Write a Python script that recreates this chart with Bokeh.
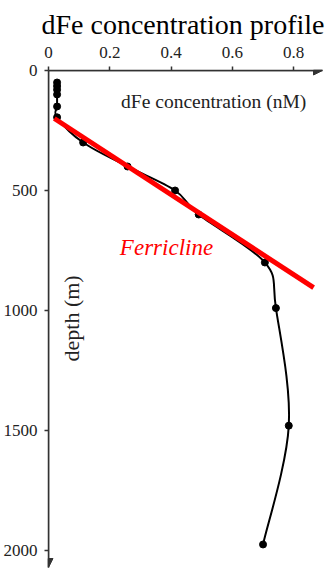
import numpy as np
from bokeh.plotting import figure
from bokeh.models import Range1d, Label, Arrow, NormalHead, FixedTicker
from bokeh.embed import file_html
from bokeh.resources import INLINE

# Data
conc = [0.028, 0.028, 0.028, 0.028, 0.028, 0.028, 0.113, 0.258, 0.413, 0.490, 0.706, 0.742, 0.784, 0.700]
depth = [50, 65, 80, 100, 150, 195, 300, 400, 500, 600, 800, 990, 1480, 1975]

ferricline_conc = [0.019, 0.865]
ferricline_depth = [200, 905]

x_ticks = [0, 0.2, 0.4, 0.6, 0.8]
x_tick_labels = ["0", "0.2", "0.4", "0.6", "0.8"]
y_ticks = [0, 500, 1000, 1500, 2000]
y_tick_labels = ["0", "500", "1000", "1500", "2000"]

FONT = "Liberation Serif"
AX = "#333333"

p = figure(width=331, height=573,
           x_range=Range1d(0, 0.894), y_range=Range1d(2071, 0),
           x_axis_location="above", output_backend="svg", toolbar_location=None,
           min_border_left=45, min_border_right=9, min_border_top=70, min_border_bottom=6)
p.outline_line_color = None
p.grid.visible = False
p.background_fill_color = "white"
p.border_fill_color = "white"

p.title.text = "dFe concentration profile"
p.title.text_font = FONT
p.title.text_font_size = "28px"
p.title.text_font_style = "normal"
p.title.align = "left"
p.title.offset = -7
p.title.text_color = "black"
p.title.standoff = 7

for ax in (p.xaxis[0], p.yaxis[0]):
    ax.axis_line_color = AX
    ax.axis_line_width = 1.5
    ax.major_tick_line_color = AX
    ax.major_tick_line_width = 1.5
    ax.major_tick_out = 4
    ax.major_tick_in = 0
    ax.minor_tick_out = 0
    ax.minor_tick_in = 0
    ax.major_label_text_font = FONT
    ax.major_label_text_color = "#222222"

p.xaxis.ticker = FixedTicker(ticks=x_ticks)
p.xaxis.major_label_overrides = {t: l for t, l in zip(x_ticks, x_tick_labels)}
p.xaxis.major_label_text_font_size = "17px"
p.xaxis.major_label_standoff = 9

p.yaxis.ticker = FixedTicker(ticks=y_ticks)
p.yaxis.major_label_overrides = {t: l for t, l in zip(y_ticks, y_tick_labels)}
p.yaxis.major_label_text_font_size = "17px"
p.yaxis.major_label_standoff = 7

# axis arrow heads
p.add_layout(Arrow(end=NormalHead(size=9, fill_color=AX, line_color=AX),
                   x_start=0, y_start=0, x_end=p.x_range.end, y_end=0,
                   line_color=AX, line_width=1.5))
p.add_layout(Arrow(end=NormalHead(size=9, fill_color=AX, line_color=AX),
                   x_start=0, y_start=0, x_end=0, y_end=p.y_range.start,
                   line_color=AX, line_width=1.5))

# smoothed profile (Catmull-Rom style Bezier segments, as spreadsheet smoothing)
P = np.column_stack([conc, depth]).astype(float)
Pp = np.vstack([P[0], P, P[-1]])
p0 = Pp[:-3]; p1 = Pp[1:-2]; p2 = Pp[2:-1]; p3 = Pp[3:]
c1 = p1 + (p2 - p0) / 6.0
c2 = p2 - (p3 - p1) / 6.0
p.bezier(x0=p1[:, 0], y0=p1[:, 1], x1=p2[:, 0], y1=p2[:, 1],
         cx0=c1[:, 0], cy0=c1[:, 1], cx1=c2[:, 0], cy1=c2[:, 1],
         line_color="black", line_width=2)
p.scatter(conc, depth, size=7, color="black")

p.line(ferricline_conc, ferricline_depth, line_color="#ff0000", line_width=5)

p.add_layout(Label(x=0.539, y=129, text="dFe concentration (nM)", text_align="center",
                   text_baseline="alphabetic", text_font=FONT, text_font_size="19.5px",
                   text_color="#222222"))
p.add_layout(Label(x=0.074, y=1033, text="depth (m)", angle=np.pi / 2, text_align="center",
                   text_baseline="middle", text_font=FONT, text_font_size="22px",
                   text_color="#222222"))
p.add_layout(Label(x=0.385, y=737, text="Ferricline", text_align="center",
                   text_baseline="alphabetic", text_font=FONT, text_font_size="23px",
                   text_font_style="italic", text_color="#ff0000"))

open("out.html", "w").write(file_html(p, INLINE))
